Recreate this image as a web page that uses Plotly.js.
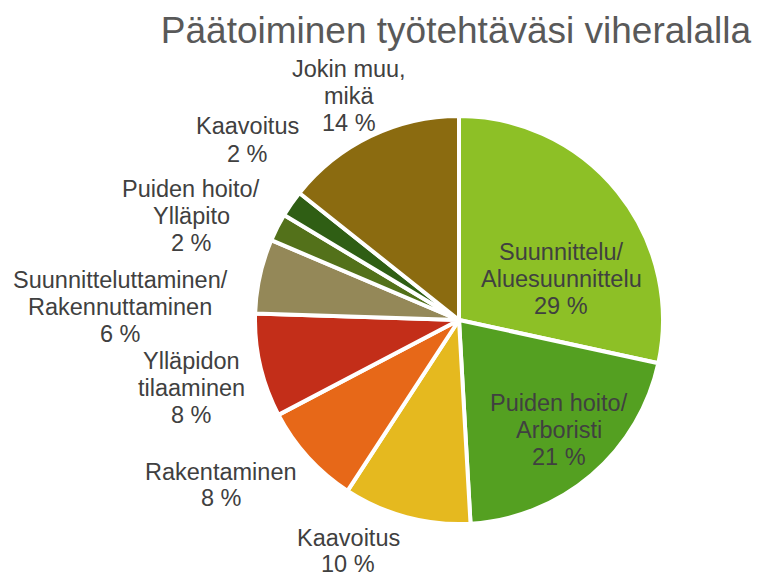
<!DOCTYPE html>
<html>
<head>
<meta charset="utf-8">
<script src="https://cdn.plot.ly/plotly-3.0.1.min.js"></script>
<style>html,body{margin:0;padding:0;background:#fff;}#chart{width:759px;height:578px;}</style>
</head>
<body>
<div id="chart"></div>
<script>
// Data
const categories = [
  "Suunnittelu/<br>Aluesuunnittelu",
  "Puiden hoito/<br>Arboristi",
  "Kaavoitus",
  "Rakentaminen",
  "Ylläpidon<br>tilaaminen",
  "Suunnitteluttaminen/<br>Rakennuttaminen",
  "Puiden hoito/<br>Ylläpito",
  "Kaavoitus ",
  "Jokin muu,<br>mikä"
];
const values = [28.4, 20.7, 10.1, 8.1, 8.2, 5.9, 2.2, 2.1, 14.3];
const percentLabels = ["29 %", "21 %", "10 %", "8 %", "8 %", "6 %", "2 %", "2 %", "14 %"];
const colors = ["#8DC026", "#54A021", "#E5B91F", "#E76818", "#C32E19", "#948858", "#53711A", "#2F5E14", "#8B6B10"];

// Label placement (pixel centres in the 759x578 figure)
const labelPos = [
  [561, 278], [559, 429], [348, 550], [221, 484], [191, 387],
  [120, 306], [191, 215], [247, 139], [349, 95]
];
const lineGap = 27;

const W = 759, H = 578;
const cx = 459, cy = 320, r = 204;

const annotations = [];
categories.forEach((c, i) => {
  const lines = c.trim().split("<br>").concat([percentLabels[i]]);
  const n = lines.length;
  const gap = (i === 2) ? 26 : lineGap;
  lines.forEach((ln, k) => {
    const py = labelPos[i][1] + (k - (n - 1) / 2) * gap + 1;
    annotations.push({
      text: ln,
      x: labelPos[i][0] / W,
      y: 1 - py / H,
      xref: "paper", yref: "paper",
      xanchor: "center", yanchor: "middle",
      showarrow: false,
      font: {family: "Liberation Sans, Arial, sans-serif", size: 23.5, color: "#404040"}
    });
  });
});

const trace = {
  type: "pie",
  labels: categories,
  values: values,
  sort: false,
  direction: "clockwise",
  rotation: 0,
  textinfo: "none",
  hoverinfo: "label+percent",
  marker: {colors: colors, line: {color: "#FFFFFF", width: 4}},
  domain: {x: [(cx - r) / W, (cx + r) / W], y: [1 - (cy + r) / H, 1 - (cy - r) / H]}
};

const layout = {
  width: W, height: H,
  margin: {l: 0, r: 0, t: 0, b: 0},
  paper_bgcolor: "#FFFFFF",
  showlegend: false,
  title: {
    text: "Päätoiminen työtehtäväsi viheralalla",
    x: 456 / W, xanchor: "center",
    y: 1 - 30 / H, yanchor: "middle",
    font: {family: "Liberation Sans, Arial, sans-serif", size: 37, color: "#595959"}
  },
  annotations: annotations
};

Plotly.newPlot("chart", [trace], layout, {displayModeBar: false, staticPlot: true});
</script>
</body>
</html>
